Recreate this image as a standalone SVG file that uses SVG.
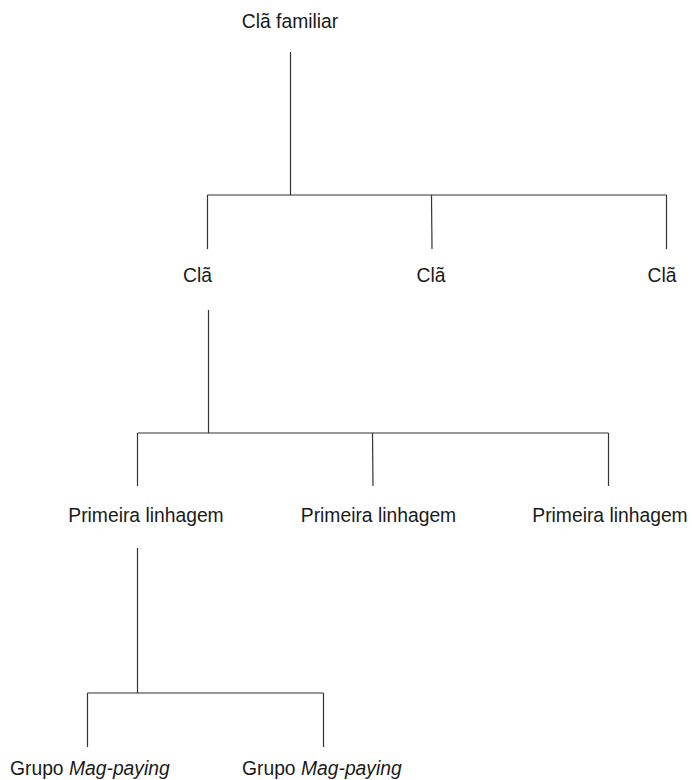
<svg xmlns="http://www.w3.org/2000/svg" width="692" height="780" viewBox="0 0 692 780">
<style>
.lbl{font-family:"Liberation Sans",Arial,sans-serif;font-size:19.3px;fill:#1a1a1a}
.c{text-anchor:middle}
.conn{stroke:#333;stroke-width:1.2;fill:none}
</style>
<rect width="692" height="780" fill="#fff"/>
<g id="connectors" class="conn">
<path d="M290.5 52V195M207.5 195H666.5M207.5 195V249M431.5 195L432 249M666.5 195V249"/>
<path d="M208.5 310V433M137.5 433H608.5M137.5 433V486M372.5 433L373 486M608.5 433V486"/>
<path d="M137.5 548V693M87.5 693H323.5M87.5 693V747M323.5 693V747"/>
</g>
<g id="n-root"><text class="lbl c" x="290" y="28">Clã familiar</text></g>
<g id="n-cla1"><text class="lbl c" x="197.5" y="282">Clã</text></g>
<g id="n-cla2"><text class="lbl c" x="431" y="282">Clã</text></g>
<g id="n-cla3"><text class="lbl c" x="662" y="282">Clã</text></g>
<g id="n-lin1"><text class="lbl c" x="146" y="522">Primeira linhagem</text></g>
<g id="n-lin2"><text class="lbl c" x="378.5" y="522">Primeira linhagem</text></g>
<g id="n-lin3"><text class="lbl c" x="610" y="522">Primeira linhagem</text></g>
<g id="n-grp1"><text class="lbl" x="10" y="775">Grupo <tspan font-style="italic">Mag-paying</tspan></text></g>
<g id="n-grp2"><text class="lbl" x="242" y="775">Grupo <tspan font-style="italic">Mag-paying</tspan></text></g>
</svg>
